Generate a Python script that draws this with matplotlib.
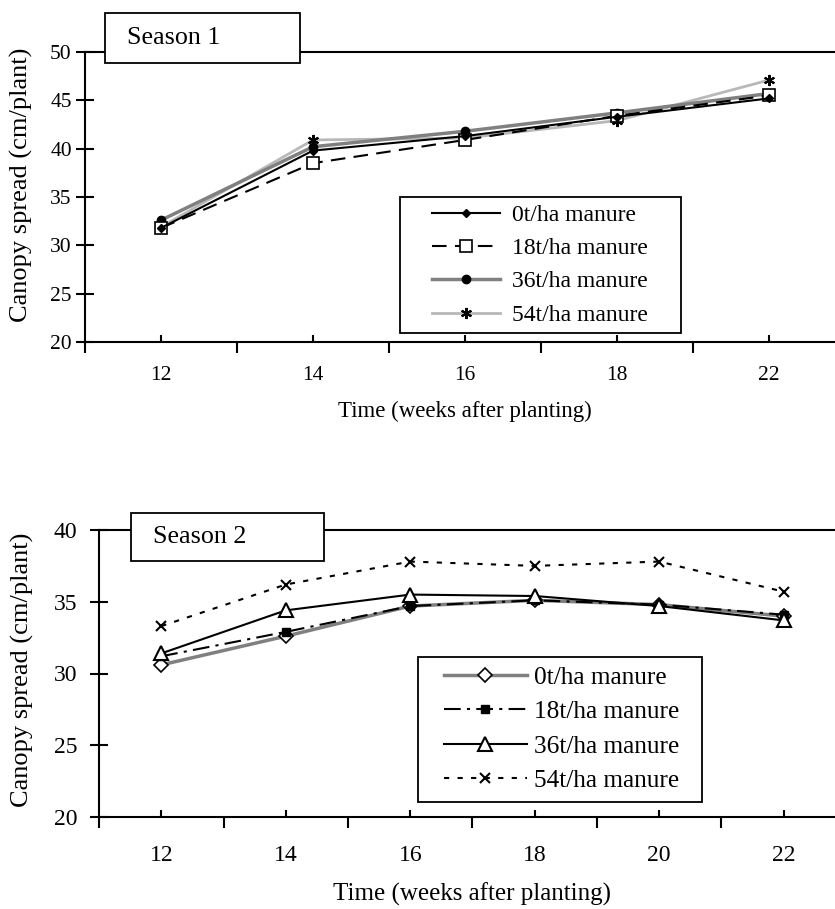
import matplotlib
matplotlib.use("Agg")
import matplotlib.pyplot as plt
from matplotlib.patches import Rectangle
from matplotlib.ticker import FixedLocator

# ---------------- data ----------------
weeks_s1 = ["12", "14", "16", "18", "22"]
s1_0t = [31.8, 39.8, 41.3, 43.3, 45.2]
s1_18t = [31.8, 38.5, 40.9, 43.4, 45.5]
s1_36t = [32.6, 40.2, 41.8, 43.7, 45.7]
s1_54t = [31.9, 40.9, 41.1, 42.9, 47.1]

weeks_s2 = ["12", "14", "16", "18", "20", "22"]
s2_0t = [30.6, 32.6, 34.7, 35.1, 34.8, 34.0]
s2_18t = [31.2, 32.9, 34.7, 35.1, 34.8, 34.1]
s2_36t = [31.4, 34.4, 35.5, 35.4, 34.7, 33.7]
s2_54t = [33.3, 36.2, 37.8, 37.5, 37.8, 35.7]

labels = ["0t/ha manure", "18t/ha manure", "36t/ha manure", "54t/ha manure"]

plt.rcParams['font.family'] = ['Liberation Serif', 'DejaVu Serif']

W, H = 835, 909
fig = plt.figure(figsize=(W / 100, H / 100), dpi=100)


def fx(px):
    return px / W


def fy(py):
    return 1 - py / H


def style_axes(ax, n, ymin, ymax, fs, ypad, xpad):
    ax.set_xlim(-0.5, n - 0.5)
    ax.set_ylim(ymin, ymax)
    ax.spines['right'].set_visible(False)
    for s in ['left', 'bottom', 'top']:
        ax.spines[s].set_linewidth(1.5)
    ax.set_yticks(range(ymin, ymax + 1, 5))
    ax.tick_params(axis='y', direction='inout', length=13, width=1.5,
                   labelsize=fs, pad=ypad)
    ax.xaxis.set_minor_locator(FixedLocator([i - 0.5 for i in range(n + 1)]))
    ax.tick_params(axis='x', which='major', direction='in', length=5,
                   width=1.5, labelsize=fs, pad=xpad)
    ax.tick_params(axis='x', which='minor', direction='out', length=8,
                   width=1.5)


def frame_box(x0, y0, x1, y1):
    fig.patches.append(Rectangle((fx(x0), fy(y1)), fx(x1 - x0), (y1 - y0) / H,
                                 transform=fig.transFigure, facecolor='white',
                                 edgecolor='black', lw=1.3, zorder=5))


# ---------------- Season 1 ----------------
ax1 = fig.add_axes([fx(85), fy(342), fx(760), (342 - 52) / H])
x1 = range(len(weeks_s1))
l1, = ax1.plot(x1, s1_0t, color='black', lw=1.5, marker='D', ms=4,
               mfc='black', mec='black', zorder=4)
l2, = ax1.plot(x1, s1_18t, color='black', lw=1.5, dashes=(7, 4), marker='s',
               ms=8, mfc='white', mec='black', mew=1.2, zorder=3)
l3, = ax1.plot(x1, s1_36t, color='#808080', lw=2.5, marker='o', ms=6,
               mfc='black', mec='black', zorder=2)
l4, = ax1.plot(x1, s1_54t, color='#b8b8b8', lw=2.0, marker=(6, 2, 0), ms=8,
               mfc='black', mec='black', mew=1.5, zorder=1)
ax1.set_xticks(list(x1))
ax1.set_xticklabels(weeks_s1)
style_axes(ax1, len(weeks_s1), 20, 50, 15.5, 3, 17)
ax1.set_ylabel("Canopy spread (cm/plant)", fontsize=19)
ax1.yaxis.set_label_coords(fx(33), fy(185), transform=fig.transFigure)
ax1.set_xlabel("Time (weeks after planting)", fontsize=16.5, labelpad=12)

frame_box(400, 197, 681, 333)
leg1 = fig.legend([l1, l2, l3, l4], labels, loc='center left',
                  bbox_to_anchor=(fx(432), fy(265)),
                  bbox_transform=fig.transFigure, frameon=False,
                  fontsize=17, handlelength=2.9, handletextpad=0.5,
                  labelspacing=0.5, borderpad=0, borderaxespad=0)
leg1.set_zorder(6)

frame_box(105, 13, 300, 63)
fig.text(fx(127), fy(38), "Season 1", fontsize=18.7, va='center', ha='left',
         zorder=6)

# ---------------- Season 2 ----------------
ax2 = fig.add_axes([fx(99), fy(817), fx(747), (817 - 530) / H])
x2 = range(len(weeks_s2))
m1, = ax2.plot(x2, s2_0t, color='#808080', lw=2.5, marker='D', ms=7,
               mfc='white', mec='black', mew=1.2, zorder=2)
m2, = ax2.plot(x2, s2_18t, color='black', lw=1.5, dashes=(8, 3, 1.5, 3),
               marker='s', ms=5.5, mfc='black', mec='black', zorder=3)
m3, = ax2.plot(x2, s2_36t, color='black', lw=1.5, marker='^', ms=10,
               mfc='white', mec='black', mew=1.5, zorder=4)
m4, = ax2.plot(x2, s2_54t, color='black', lw=1.5, dashes=(2.5, 4), marker='x',
               ms=7.5, mfc='black', mec='black', mew=1.5, zorder=5)
ax2.set_xticks(list(x2))
ax2.set_xticklabels(weeks_s2)
style_axes(ax2, len(weeks_s2), 20, 40, 17, 9, 20)
ax2.set_ylabel("Canopy spread (cm/plant)", fontsize=19)
ax2.yaxis.set_label_coords(fx(34), fy(670), transform=fig.transFigure)
ax2.set_xlabel("Time (weeks after planting)", fontsize=18, labelpad=12)

frame_box(418, 657, 702, 802)
leg2 = fig.legend([m1, m2, m3, m4], labels, loc='center left',
                  bbox_to_anchor=(fx(444), fy(729)),
                  bbox_transform=fig.transFigure, frameon=False,
                  fontsize=18.3, handlelength=3.25, handletextpad=0.3,
                  labelspacing=0.46, borderpad=0, borderaxespad=0)
leg2.set_zorder(6)

frame_box(131, 513, 324, 561)
fig.text(fx(153), fy(537), "Season 2", fontsize=18.8, va='center', ha='left',
         zorder=6)

fig.savefig("out.png", dpi=100)
